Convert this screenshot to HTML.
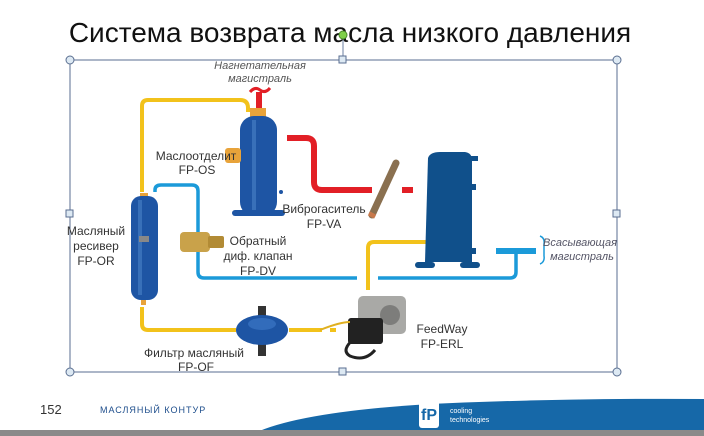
<!DOCTYPE html>
<html><head><meta charset="utf-8"><style>
body{margin:0;width:704px;height:436px;overflow:hidden;background:#fff}
svg{display:block}
text{font-family:"Liberation Sans",sans-serif}
</style></head><body>
<svg width="704" height="436" viewBox="0 0 704 436">
<text x="350" y="42" font-size="28" text-anchor="middle" fill="#111">Система возврата масла низкого давления</text>
<!-- selection box -->
<line x1="343" y1="36" x2="343" y2="60" stroke="#6b7fa0" stroke-width="1"/>
<rect x="70" y="60" width="547" height="312" fill="none" stroke="#5a6e90" stroke-width="1"/>
<!-- pipes yellow -->
<g fill="none" stroke="#f2c21b" stroke-width="4" stroke-linejoin="round">
<path d="M142 192 V106 Q142 100 148 100 H240 Q248 100 248 108 V112"/>
<path d="M142 307 V324 Q142 330 148 330 H236"/>
<path d="M289 330 H322"/>
<path d="M330 330 H336"/>
<path d="M368 290 V248 Q368 242 374 242 H426"/>
</g>
<!-- blue pipes -->
<g fill="none" stroke="#1b9ad9" stroke-width="3.5" stroke-linejoin="round">
<path d="M155 192 V190 Q155 185 161 185 H192 Q198 185 198 191 V272 Q198 278 204 278 H357"/>
<path d="M378 278 H510 Q516 278 516 272 V252"/>
</g>
<rect x="496" y="248" width="40" height="6" fill="#1b9ad9"/>
<path d="M540 236 Q545 238 544 244 V256 Q545 262 540 264" fill="none" stroke="#1b9ad9" stroke-width="1.5"/>
<!-- red pipes -->
<g fill="none" stroke="#e21f26" stroke-width="6" stroke-linejoin="round">
<path d="M287 138 H306 Q314 138 314 146 V182 Q314 190 322 190 H372"/>
<path d="M402 190 H413"/>
<path d="M259 110 V92"/>
</g>
<path d="M250 92 Q255 86 260 90 Q265 94 270 88" fill="none" stroke="#e21f26" stroke-width="3"/>
<!-- separator -->
<rect x="250" y="108" width="16" height="10" fill="#e8a33a"/>
<rect x="240" y="116" width="37" height="100" rx="14" fill="#1e55a4"/>
<rect x="252" y="120" width="4" height="90" fill="#4a82c8" opacity=".6"/>
<rect x="232" y="210" width="53" height="6" rx="3" fill="#1e55a4"/>
<rect x="225" y="148" width="16" height="15" rx="3" fill="#e8a33a"/>
<circle cx="281" cy="192" r="2" fill="#1e55a4"/>
<!-- receiver -->
<rect x="140" y="193" width="8" height="5" fill="#e8a33a"/>
<rect x="131" y="196" width="27" height="104" rx="10" fill="#1e55a4"/>
<rect x="138" y="200" width="4" height="95" fill="#4a82c8" opacity=".6"/>
<rect x="139" y="236" width="10" height="6" fill="#888"/>
<rect x="141" y="300" width="5" height="5" fill="#e8a33a"/>
<!-- valve -->
<rect x="180" y="232" width="30" height="20" rx="4" fill="#c9a24a"/>
<rect x="208" y="236" width="16" height="12" rx="2" fill="#b28b35"/>
<!-- filter -->
<rect x="258" y="306" width="8" height="10" fill="#333"/>
<rect x="258" y="344" width="8" height="12" fill="#333"/>
<ellipse cx="262" cy="330" rx="26" ry="15" fill="#1e55a4"/>
<ellipse cx="262" cy="324" rx="14" ry="6" fill="#3f7ccc" opacity=".6"/>
<!-- vibration absorber -->
<line x1="372" y1="215" x2="396" y2="163" stroke="#8a7050" stroke-width="7" stroke-linecap="round"/>
<line x1="371" y1="217" x2="373" y2="213" stroke="#c8784a" stroke-width="7"/>
<!-- compressor -->
<path d="M428 158 Q430 152 440 152 H465 Q472 153 472 160 V262 H425 Z" fill="#10508b"/>
<rect x="470" y="156" width="8" height="5" fill="#10508b"/>
<rect x="470" y="184" width="6" height="6" fill="#10508b"/>
<rect x="470" y="248" width="6" height="6" fill="#10508b"/>
<rect x="415" y="262" width="20" height="6" rx="3" fill="#10508b"/>
<rect x="460" y="262" width="20" height="6" rx="3" fill="#10508b"/>
<!-- feedway -->
<rect x="358" y="296" width="48" height="38" rx="5" fill="#a9a9a6"/>
<circle cx="390" cy="315" r="10" fill="#7d7d7b"/>
<rect x="348" y="318" width="35" height="26" rx="3" fill="#222"/>
<path d="M320 330 Q340 322 350 322" stroke="#e0b020" stroke-width="2" fill="none"/>
<path d="M355 338 Q340 350 350 356 Q365 362 375 350" stroke="#222" stroke-width="3" fill="none"/>
<!-- labels -->
<g font-size="12" fill="#333" text-anchor="middle">
<text x="260" y="69" font-style="italic" fill="#555" font-size="11">Нагнетательная</text>
<text x="260" y="82" font-style="italic" fill="#555" font-size="11">магистраль</text>
<text x="196" y="160">Маслоотделит</text>
<text x="197" y="174">FP-OS</text>
<text x="96" y="235">Масляный</text>
<text x="96" y="250">ресивер</text>
<text x="96" y="265">FP-OR</text>
<text x="258" y="245">Обратный</text>
<text x="258" y="260">диф. клапан</text>
<text x="258" y="275">FP-DV</text>
<text x="324" y="213">Виброгаситель</text>
<text x="324" y="228">FP-VA</text>
<text x="580" y="246" font-style="italic" fill="#556" font-size="11">Всасывающая</text>
<text x="582" y="260" font-style="italic" fill="#556" font-size="11">магистраль</text>
<text x="442" y="333">FeedWay</text>
<text x="442" y="348">FP-ERL</text>
<text x="194" y="357">Фильтр масляный</text>
<text x="196" y="371">FP-OF</text>
</g>
<!-- handles -->
<g fill="#dde9f3" stroke="#5a6e90" stroke-width="1">
<circle cx="70" cy="60" r="4"/><circle cx="617" cy="60" r="4"/>
<circle cx="70" cy="372" r="4"/><circle cx="617" cy="372" r="4"/>
<rect x="339" y="56" width="7" height="7"/><rect x="339" y="368" width="7" height="7"/>
<rect x="66" y="210" width="7" height="7"/><rect x="613" y="210" width="7" height="7"/>
</g>
<circle cx="343" cy="35" r="4" fill="#7fd04a" stroke="#4a8a2a"/>
<!-- footer -->
<path d="M255 433 Q300 412 430 404 Q560 398 704 399 V433 Z" fill="#1668a8"/>
<rect x="0" y="430" width="704" height="6" fill="#8a8a8a"/>
<text x="40" y="414" font-size="13" fill="#333">152</text>
<text x="100" y="413" font-size="9" fill="#1e4e8c" font-family="Liberation Serif,serif" letter-spacing="1">МАСЛЯНЫЙ КОНТУР</text>
<rect x="419" y="396" width="20" height="32" rx="3" fill="#fff"/>
<text x="429" y="420" font-size="16" font-weight="bold" fill="#1668a8" text-anchor="middle">fP</text>
<text x="450" y="413" font-size="7" fill="#fff">cooling</text>
<text x="450" y="422" font-size="7" fill="#fff">technologies</text>
</svg>
</body></html>
